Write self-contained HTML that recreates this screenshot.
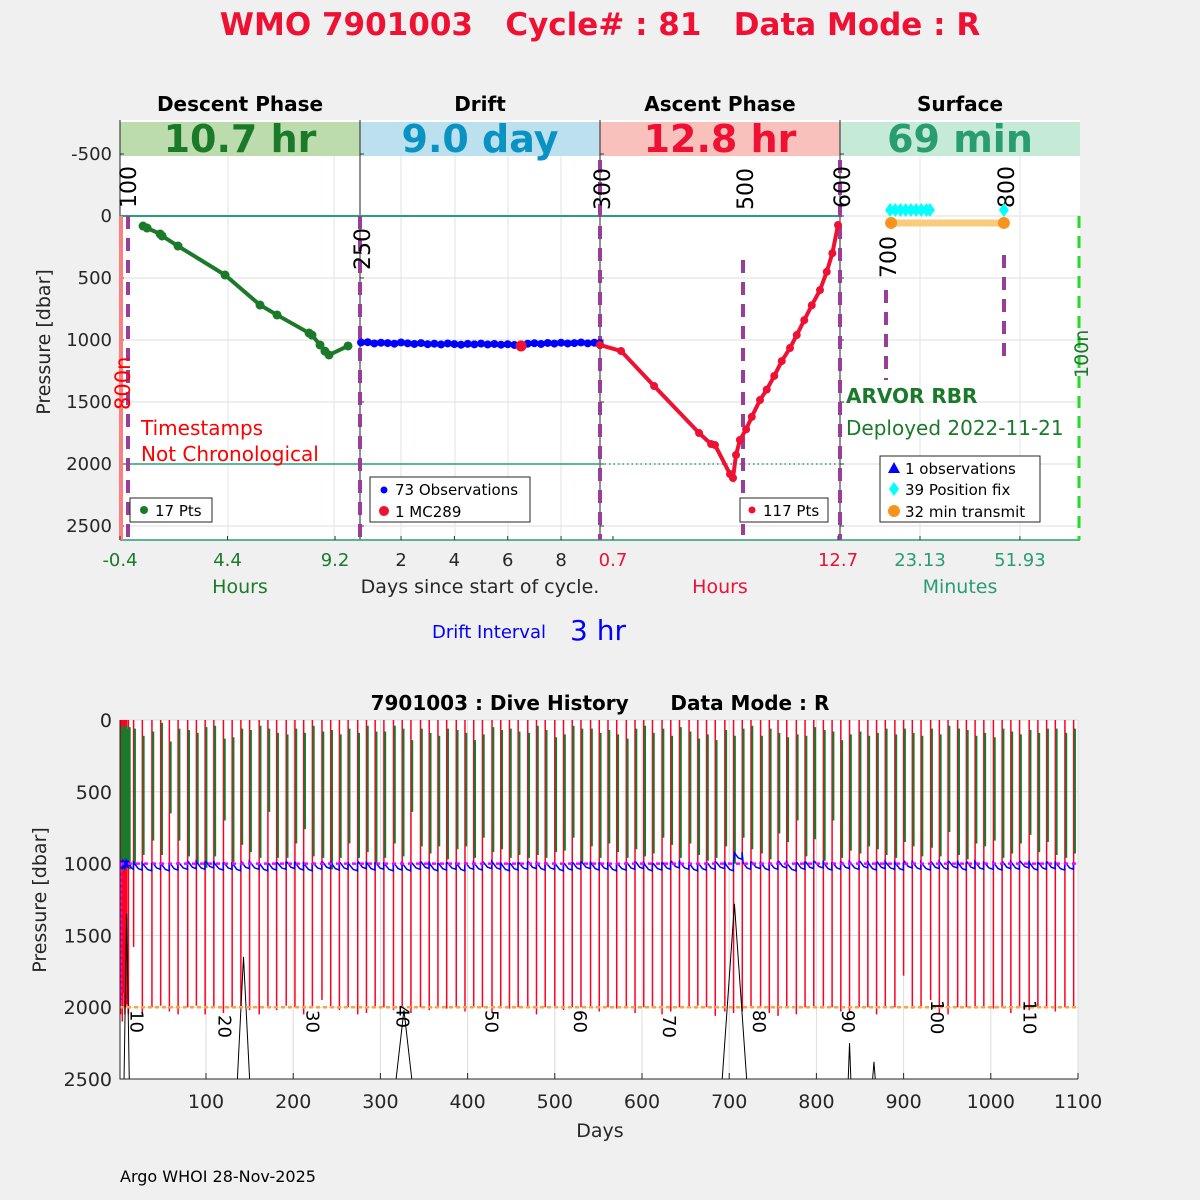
<!DOCTYPE html>
<html><head><meta charset="utf-8">
<style>
html,body{margin:0;padding:0;background:#f0f0f0;}
svg{display:block;font-family:"DejaVu Sans","Liberation Sans",sans-serif;}
.pre{white-space:pre;}
</style></head>
<body>
<svg id="chart" width="1200" height="1200" viewBox="0 0 1200 1200" xmlns="http://www.w3.org/2000/svg">
<rect x="0" y="0" width="1200" height="1200" fill="#f0f0f0"/>
<text x="600" y="35" text-anchor="middle" font-size="31" font-weight="bold" fill="#ee1133" class="pre">WMO 7901003   Cycle# : 81   Data Mode : R</text>
<g id="topPanel"></g>
<g id="botPanel"></g>
<text x="120" y="1182" font-size="16" fill="#000">Argo WHOI 28-Nov-2025</text>
</svg>
<script>
// ---------- TOP PANEL DATA ----------
const descentHours = [0.63,0.81,1.39,1.48,2.19,4.29,5.85,6.61,8.04,8.17,8.53,8.75,8.93,9.78];
const descentPres  = [81,97,145,161,242,476,718,798,944,960,1040,1090,1121,1048];
const driftDays = [0.5,0.75,1.0,1.25,1.5,1.75,2.0,2.25,2.5,2.75,3.0,3.25,3.5,3.75,4.0,4.25,4.5,4.75,5.0,5.25,5.5,5.75,6.0,6.25,6.5,6.75,7.0,7.25,7.5,7.75,8.0,8.25,8.5,8.75,9.0,9.25,9.45];
const driftPres = [1020,1018,1028,1022,1025,1030,1020,1027,1032,1025,1034,1030,1036,1028,1033,1038,1031,1035,1029,1036,1032,1038,1034,1040,1037,1030,1026,1032,1024,1029,1022,1028,1025,1020,1027,1022,1025];
const mcDay = [6.5];
const mcPres = [1048];
const ascentHours = [0.0,1.13,2.89,5.29,5.93,6.14,6.94,7.1,7.26,7.47,7.8,8.1,8.54,8.9,9.3,9.7,10.14,10.5,10.9,11.3,11.74,12.1,12.4,12.7];
const ascentPres  = [1040,1089,1371,1750,1839,1847,2081,2113,1927,1806,1720,1620,1484,1400,1290,1170,1065,960,840,720,597,450,300,73];
const fixMinutes = [14.5,16,17.5,19,20.5,22,23.5,25,26,47.3];
const fixPres = [-48,-48,-48,-48,-48,-48,-48,-48,-48,-48];
const transmitMinutes = [14.8,47.3];
const transmitPres = [56,56];
const yTicksTop = [-500,0,500,1000,1500,2000,2500];
const descTicks = [-0.4,4.4,9.2];
const driftTicks = [2,4,6,8];
const ascTicks = [0.7,12.7];
const surfTicks = [23.13,51.93];

// ---------- BOTTOM PANEL DATA ----------
const cycleDays = [2,3,4,5,6,7,8,9,11,17,27,38,48,58,68,79,89,99,109,120,130,140,150,161,171,181,192,202,212,222,233,243,253,263,274,284,294,304,315,325,335,346,356,366,376,387,397,407,417,428,438,448,458,469,479,489,500,510,520,530,541,551,561,571,582,592,602,612,623,633,643,654,664,674,684,695,705,715,725,736,746,756,766,777,787,797,808,818,828,838,849,859,869,879,890,900,910,920,931,941,951,962,972,982,992,1003,1013,1023,1033,1044,1054,1064,1074,1085,1095];
const greenTop = [60,40,80,50,90,30,70,60,50,60,110,80,20,150,60,70,90,50,40,130,120,60,70,40,60,90,100,60,90,40,80,70,100,60,90,40,80,80,40,60,140,60,90,110,60,70,90,140,100,50,70,60,80,90,40,70,120,100,40,60,60,90,70,100,130,60,40,90,60,110,50,80,130,100,140,70,110,60,40,110,60,90,120,100,110,50,70,80,140,100,80,110,90,60,100,60,90,110,60,100,40,60,70,110,90,120,60,80,100,70,90,60,60,90,60];
const greenBottom = [1000,1050,980,1040,1000,1020,960,1000,1040,1000,940,840,940,650,840,950,1000,1030,950,700,990,870,920,960,640,960,960,860,760,950,960,1040,960,860,960,920,1000,960,860,950,640,880,930,880,970,900,880,960,820,920,900,960,940,960,940,960,920,910,820,990,880,960,860,920,960,900,950,930,820,870,960,860,940,980,960,880,1000,820,900,930,970,790,850,700,950,830,980,700,960,910,930,880,900,940,960,850,880,950,890,950,780,940,970,860,880,840,960,930,860,800,920,850,940,960,930];
const redBottom = [2050,1950,2100,1900,2000,2050,2000,1980,2050,1580,2050,2000,1990,2030,2050,2000,1990,2050,2000,2040,2000,2000,2020,2050,2000,2020,1990,2000,2050,2000,1950,2000,2020,2000,2050,2040,2000,2000,2020,2000,2040,2000,2020,2000,2010,2000,2030,2000,2000,2040,2000,2010,2000,2000,2050,2000,2000,2020,2000,2000,2000,2030,2000,2010,2000,2040,2000,2000,2050,2030,2000,2000,1990,2000,2060,2030,2040,2030,2000,2000,2040,2060,2000,2050,2000,2000,2010,2000,2030,2040,2000,2000,2050,2000,2000,1780,2010,2000,1950,2040,2050,2000,2000,2000,2000,2010,2000,2040,2000,2020,2000,2000,2030,2000,2000];
const driftMean = [990,1000,1010,1000,1005,1010,1000,995,1000,1010,1015,1020,1010,1020,1015,1010,1005,1010,1000,1015,1010,1020,1005,1010,1020,1015,1010,1005,1015,1020,1010,1005,1015,1010,1020,1005,1015,1010,1020,1015,1020,1010,1005,1020,1015,1010,1020,1010,1015,1005,1010,1020,1015,1010,1005,1015,1010,1020,1015,1010,1005,1015,1010,1020,1015,1010,1005,1020,1015,1010,1000,1010,1020,1015,1010,1005,1020,940,1010,1005,1015,1010,1000,1020,1010,1005,1000,1015,1010,1005,1010,1000,1015,1005,1010,1015,1000,1010,1015,1005,1010,1000,1015,1005,1010,1010,1015,1005,1010,1000,1015,1010,1005,1015,1010];
const peakDays = [9,143,327,706,838,866];
const peakPres = [1350,1650,2020,1280,2250,2380];
const peakHalfWidth = [3,7,9,14,1.5,1.5];
const xTicksBot = [100,200,300,400,500,600,700,800,900,1000,1100];
const yTicksBot = [0,500,1000,1500,2000,2500];
const cycleLabels = [10,20,30,40,50,60,70,80,90,100,110];
const cycleLabelDay = [11,112,213,316,418,520,622,725,827,929,1035];
const cycleLabelY = [1030,1035,1030,1025,1030,1030,1035,1030,1030,1020,1020];

const NS = "http://www.w3.org/2000/svg";
function mk(tag, attrs, parent){
  const e = document.createElementNS(NS, tag);
  for (const k in attrs) e.setAttribute(k, attrs[k]);
  parent.appendChild(e);
  return e;
}
const topG = document.getElementById('topPanel');
const botG = document.getElementById('botPanel');

const py = p => 216 + p * 0.124;
const hxD = h => 120 + (h + 0.4) * 22.4;
const dxD = d => 347.7 + d * 26.67;
const axA = h => 613 + (h - 0.7) * 18.75;
const sxS = m => 920 + (m - 23.13) * 3.47;

const panels = [
  {x:120, title:'Descent Phase', band:'#bddcae', big:'10.7 hr', bigc:'#1a7a2a', grids:[228,334]},
  {x:360, title:'Drift', band:'#bde0ee', big:'9.0 day', bigc:'#0a93c2', grids:[401,455,508,561]},
  {x:600, title:'Ascent Phase', band:'#f9c1bb', big:'12.8 hr', bigc:'#ee1133', grids:[]},
  {x:840, title:'Surface', band:'#c6ead8', big:'69 min', bigc:'#2a9d70', grids:[920,1020]}
];
panels.forEach((p,i)=>{
  const r = mk('rect',{x:p.x,y:120,width:240,height:420,fill:'#fff'},topG);
  
  
  yTicksTop.forEach(t=>{
    if (t<0) return;
    const g = mk('line',{x1:p.x,x2:p.x+240,y1:py(t),y2:py(t),stroke:'#dcdcdc','stroke-width':1},topG);
    
    
  });
  p.grids.forEach(gx=>{
    const g = mk('line',{x1:gx,x2:gx,y1:156,y2:540,stroke:'#dfe6e6','stroke-width':1},topG);
    
    
  });
  const b = mk('rect',{x:p.x,y:122,width:240,height:34,fill:p.band},topG);
  
  
  const bt = mk('text',{x:p.x+120,y:152,'text-anchor':'middle','font-size':38,'font-weight':'bold',fill:p.bigc},topG);
  bt.textContent = p.big;
  
  
  const tt = mk('text',{x:p.x+120,y:111,'text-anchor':'middle','font-size':20,'font-weight':'bold',fill:'#000'},topG);
  tt.textContent = p.title;
  
  
  yTicksTop.forEach(t=>{
    const tk = mk('line',{x1:p.x,x2:p.x+4,y1:py(t),y2:py(t),stroke:'#333','stroke-width':1},topG);
    
    
  });
  const ax = mk('line',{x1:p.x,x2:p.x,y1:120,y2:540,stroke:'#222','stroke-width':1},topG);
  
  
});
const bl = mk('line',{x1:120,x2:1080,y1:540,y2:540,stroke:'#2a9d70','stroke-width':1.5},topG);



yTicksTop.forEach(t=>{
  const l = mk('text',{x:112,y:py(t)+6,'text-anchor':'end','font-size':18,fill:'#262626'},topG);
  l.textContent = t;
  
  
});
const yl = mk('text',{transform:'translate(50,342) rotate(-90)','text-anchor':'middle','font-size':19,fill:'#262626'},topG);
yl.textContent = 'Pressure [dbar]';



const l0 = mk('line',{x1:120,x2:840,y1:py(0),y2:py(0),stroke:'#2a9d7a','stroke-width':2},topG);


const l2 = mk('line',{x1:120,x2:600,y1:py(2000),y2:py(2000),stroke:'#2a9d7a','stroke-width':1.5},topG);


const l3 = mk('line',{x1:600,x2:840,y1:py(2000),y2:py(2000),stroke:'#2a9d7a','stroke-width':1.5,'stroke-dasharray':'1.5,3'},topG);



const rl = mk('line',{x1:121,x2:121,y1:216,y2:540,stroke:'#fb8080','stroke-width':4},topG);


const gl = mk('line',{x1:1079,x2:1079,y1:216,y2:540,stroke:'#22dd22','stroke-width':3,'stroke-dasharray':'12,8'},topG);



const evX = [128,360,600,743,840,886,1004];
const evY1 = [216,216,160,260,160,290,255];
const evY2 = [540,540,540,535,540,380,365];
evX.forEach((x,i)=>{
  const e = mk('line',{x1:x,x2:x,y1:evY1[i],y2:evY2[i],stroke:'#983d98','stroke-width':4,'stroke-dasharray':'13,9'},topG);
  
  
});
const evLab = ['100','250','300','500','600','700','800'];
const evLX = [136,370,610,753,850,896,1014];
const evLY = [208,270,210,210,208,278,208];
evLab.forEach((s,i)=>{
  const t = mk('text',{transform:`translate(${evLX[i]},${evLY[i]}) rotate(-90)`,'font-size':22,fill:'#000'},topG);
  t.textContent = s;
  
  
});
const t800 = mk('text',{transform:'translate(130,410) rotate(-90)','font-size':21,fill:'#ff0000'},topG);
t800.textContent = '800n';


const t100 = mk('text',{transform:'translate(1088,378) rotate(-90)','font-size':19,fill:'#1a7a2a'},topG);
t100.textContent = '100n';



const dpts = descentHours.map((h,i)=>hxD(h)+','+py(descentPres[i])).join(' ');
const dl = mk('polyline',{points:dpts,fill:'none',stroke:'#1a7a2a','stroke-width':4},topG);


descentHours.forEach((h,i)=>{
  const c = mk('circle',{cx:hxD(h),cy:py(descentPres[i]),r:4.5,fill:'#1a7a2a'},topG);
  
  
});
const drp = driftDays.map((d,i)=>dxD(d)+','+py(driftPres[i])).join(' ');
const drl = mk('polyline',{points:drp,fill:'none',stroke:'#0000ff','stroke-width':5},topG);


driftDays.forEach((d,i)=>{
  const c = mk('circle',{cx:dxD(d),cy:py(driftPres[i]),r:4,fill:'#0000ff'},topG);
  
  
});
mcDay.forEach((d,i)=>{
  const c = mk('circle',{cx:dxD(d),cy:py(mcPres[i]),r:5.5,fill:'#ee1133'},topG);
  
  
});
const ap = ascentHours.map((h,i)=>axA(h)+','+py(ascentPres[i])).join(' ');
const al = mk('polyline',{points:ap,fill:'none',stroke:'#ee1133','stroke-width':4},topG);


ascentHours.forEach((h,i)=>{
  const c = mk('circle',{cx:axA(h),cy:py(ascentPres[i]),r:4,fill:'#ee1133'},topG);
  
  
});
const tl = mk('line',{x1:sxS(transmitMinutes[0]),x2:sxS(transmitMinutes[1]),y1:py(transmitPres[0]),y2:py(transmitPres[1]),stroke:'#fbcb7c','stroke-width':7},topG);


transmitMinutes.forEach((m,i)=>{
  const c = mk('circle',{cx:sxS(m),cy:py(transmitPres[i]),r:6,fill:'#f7941d'},topG);
  
  
});
fixMinutes.forEach((m,i)=>{
  const x=sxS(m), y=py(fixPres[i]);
  const c = mk('polygon',{points:`${x},${y-7} ${x+5},${y} ${x},${y+7} ${x-5},${y}`,fill:'#00ffff'},topG);
  
  
});

function xlabels(ticks, fn, color){
  ticks.forEach(t=>{
    const l = mk('text',{x:fn(t),y:566,'text-anchor':'middle','font-size':18,fill:color},topG);
    l.textContent = t;
    
    
    const tk = mk('line',{x1:fn(t),x2:fn(t),y1:536,y2:540,stroke:'#333'},topG);
    
    
  });
}
xlabels(descTicks,hxD,'#1a7a2a');
xlabels(driftTicks,dxD,'#262626');
xlabels(ascTicks,axA,'#ee1133');
xlabels(surfTicks,sxS,'#2a9d70');
const xt = [['Hours',240,'#1a7a2a'],['Days since start of cycle.',480,'#262626'],['Hours',720,'#ee1133'],['Minutes',960,'#2a9d70']];
xt.forEach(a=>{
  const l = mk('text',{x:a[1],y:593,'text-anchor':'middle','font-size':19,fill:a[2]},topG);
  l.textContent = a[0];
  
  
});
const di = mk('text',{x:489,y:638,'text-anchor':'middle','font-size':18,fill:'#0000ff'},topG);
di.textContent = 'Drift Interval';


const di2 = mk('text',{x:598,y:640,'text-anchor':'middle','font-size':28,fill:'#0000ff'},topG);
di2.textContent = '3 hr';



const an = [['Timestamps',141,435,'#ff0000',20,'normal'],['Not Chronological',141,461,'#ff0000',20,'normal'],['ARVOR RBR',846,403,'#1a7a2a',20,'bold'],['Deployed 2022-11-21',846,435,'#1a7a2a',20,'normal']];
an.forEach(a=>{
  const l = mk('text',{x:a[1],y:a[2],'font-size':a[4],'font-weight':a[5],fill:a[3]},topG);
  l.textContent = a[0];
  
  
});

function legendBox(x,y,w,h){
  const r = mk('rect',{x:x,y:y,width:w,height:h,fill:'#fff',stroke:'#262626','stroke-width':1},topG);
  
  
}
function legendText(s,x,y){
  const t = mk('text',{x:x,y:y,'font-size':15,fill:'#000'},topG);
  t.textContent = s;
  
  
}
function dot(x,y,r,c){
  const d = mk('circle',{cx:x,cy:y,r:r,fill:c},topG);
  
  
}
legendBox(130,498,82,24); dot(144,510,4,'#1a7a2a'); legendText('17 Pts',155,516);
legendBox(370,477,160,45); dot(384,490,3.5,'#0000ff'); legendText('73 Observations',395,495); dot(384,511,5,'#ee1133'); legendText('1 MC289',395,517);
legendBox(740,498,88,24); dot(752,510,3.5,'#ee1133'); legendText('117 Pts',763,516);
legendBox(880,456,160,66);
const tri = mk('polygon',{points:'894,462 900,473 888,473',fill:'#0000ff'},topG);


legendText('1 observations',905,474);
const dia = mk('polygon',{points:'894,482 899,489 894,496 889,489',fill:'#00ffff'},topG);


legendText('39 Position fix',905,495);
dot(894,511,6,'#f7941d'); legendText('32 min transmit',905,517);

// ---------- BOTTOM PANEL ----------
const bx = d => 118.8 + d * 0.872;
const by = p => 720 + p * 0.1436;
const bg = mk('rect',{x:120,y:720,width:958,height:359,fill:'#fff'},botG);


xTicksBot.forEach(t=>{
  const g = mk('line',{x1:bx(t),x2:bx(t),y1:720,y2:1079,stroke:'#dcdcdc'},botG);
  
  
  const tk = mk('line',{x1:bx(t),x2:bx(t),y1:1073,y2:1079,stroke:'#262626'},botG);
  
  
  const l = mk('text',{x:bx(t),y:1108,'text-anchor':'middle','font-size':19,fill:'#262626'},botG);
  l.textContent = t;
  
  
});
yTicksBot.forEach(t=>{
  const g = mk('line',{x1:120,x2:1078,y1:by(t),y2:by(t),stroke:'#dcdcdc'},botG);
  
  
  const l = mk('text',{x:112,y:by(t)+7,'text-anchor':'end','font-size':19,fill:'#262626'},botG);
  l.textContent = t;
  
  
});
cycleDays.forEach((d,i)=>{
  const r = mk('line',{x1:bx(d),x2:bx(d),y1:by(redBottom[i]),y2:by(0),stroke:'#ff0022','stroke-width':1.5},botG);
  
  
});
cycleDays.forEach((d,i)=>{
  const g = mk('line',{x1:bx(d)+1.3,x2:bx(d)+1.3,y1:by(greenTop[i]),y2:by(greenBottom[i]),stroke:'#1a7a2a','stroke-width':2},botG);
  
  
});
let bpts = [];
cycleDays.forEach((d,i)=>{
  if (i===0) return;
  const s = cycleDays[i-1]+1, e = d-0.3;
  bpts.push(bx(s)+','+by(driftMean[i]-15));
  bpts.push(bx((s+e)/2)+','+by(driftMean[i]+20));
  bpts.push(bx(e)+','+by(driftMean[i]+30));
  bpts.push(bx(e)+','+by(driftMean[i]-20));
});
const blu = mk('polyline',{points:bpts.join(' '),fill:'none',stroke:'#0000ff','stroke-width':1.5},botG);


peakDays.forEach((d,i)=>{
  const pk = mk('polyline',{points:`${bx(d-peakHalfWidth[i])},1079 ${bx(d)},${by(peakPres[i])} ${bx(d+peakHalfWidth[i])},1079`,fill:'none',stroke:'#000','stroke-width':1},botG);
  
  
});
const mg = mk('line',{x1:120,x2:1078,y1:by(1000),y2:by(1000),stroke:'#ff00ff','stroke-width':2.5,'stroke-dasharray':'4,4'},botG);


const mgv = mk('line',{x1:121,x2:121,y1:by(1000),y2:by(2000),stroke:'#ff00ff','stroke-width':2.5,'stroke-dasharray':'3,3'},botG);


const og = mk('line',{x1:120,x2:1078,y1:by(2000),y2:by(2000),stroke:'#f5a742','stroke-width':2.5,'stroke-dasharray':'4,3'},botG);


cycleLabels.forEach((c,i)=>{
  const t = mk('text',{transform:`translate(${bx(cycleLabelDay[i])+2},${cycleLabelY[i]-20}) rotate(90)`,'font-size':18,fill:'#000'},botG);
  t.textContent = c;
  
  
});
const frame = mk('path',{d:'M120,720 L120,1079 L1078,1079',fill:'none',stroke:'#262626','stroke-width':1},botG);


const btitle = mk('text',{x:600,y:710,'text-anchor':'middle','font-size':20,'font-weight':'bold',fill:'#000','class':'pre'},botG);
btitle.textContent = '7901003 : Dive History      Data Mode : R';


const bxl = mk('text',{x:600,y:1137,'text-anchor':'middle','font-size':19,fill:'#262626'},botG);
bxl.textContent = 'Days';


const byl = mk('text',{transform:'translate(46,900) rotate(-90)','text-anchor':'middle','font-size':19,fill:'#262626'},botG);
byl.textContent = 'Pressure [dbar]';


</script>
</body></html>
